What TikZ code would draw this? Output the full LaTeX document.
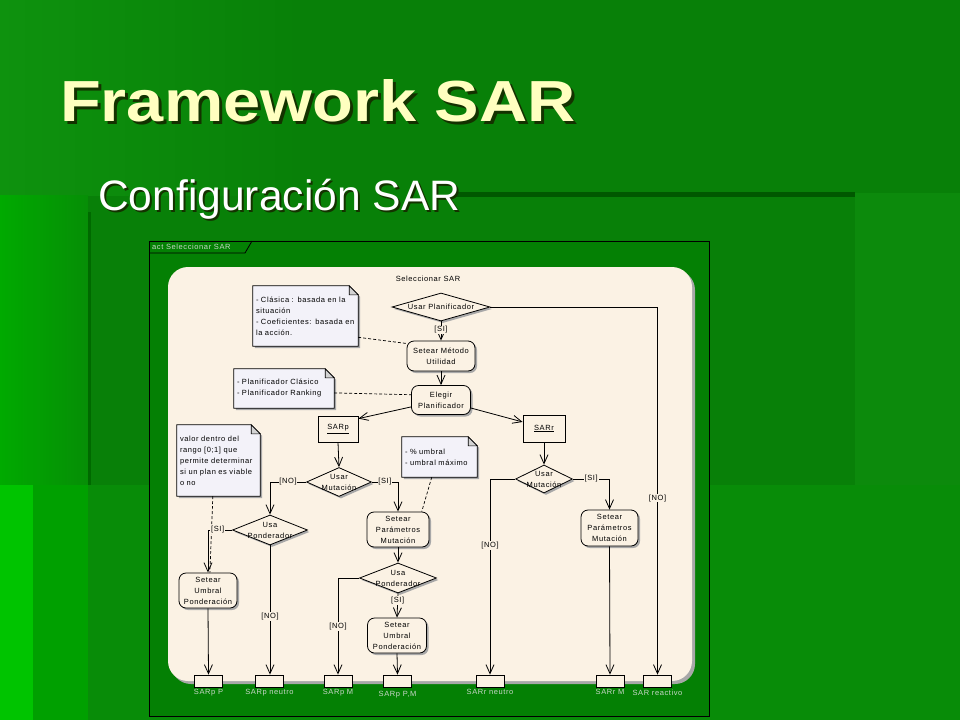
\documentclass[tikz,border=0pt]{standalone}
\usepackage{fontspec}
\setmainfont{Liberation Sans}
\newfontfamily\dfont[LetterSpace=8]{Liberation Sans}
\usetikzlibrary{shapes.geometric,arrows.meta,shadows,calc}
\pgfdeclarelayer{bg}
\pgfdeclarelayer{notebg}
\pgfsetlayers{bg,notebg,main}
\definecolor{bgA}{RGB}{8,128,8}
\definecolor{bgTL}{RGB}{14,146,14}
\definecolor{bgLeftA}{RGB}{0,170,0}
\definecolor{bgLeftB}{RGB}{6,142,6}
\definecolor{bgLL}{RGB}{0,196,0}
\definecolor{bgLM}{RGB}{0,160,0}
\definecolor{bgLow}{RGB}{8,140,8}
\definecolor{bgLine}{RGB}{0,105,0}
\definecolor{bgRight}{RGB}{12,138,12}
\definecolor{bgDark}{RGB}{0,88,0}
\definecolor{frameIn}{RGB}{4,128,4}
\definecolor{cream}{RGB}{251,242,228}
\definecolor{notefill}{RGB}{243,242,249}
\definecolor{shadowgray}{RGB}{168,168,168}
\definecolor{pingray}{RGB}{200,214,200}
\definecolor{titleyellow}{RGB}{255,255,192}
\definecolor{titleshadow}{RGB}{20,50,0}
\tikzset{
  dtext/.style={font=\dfont\fontsize{7.5}{11}\selectfont},
  shad/.style={drop shadow={shadow xshift=2pt,shadow yshift=-2pt,fill=shadowgray,opacity=1}},
  action/.style={rectangle,rounded corners=7pt,draw,line width=0.8pt,fill=cream,align=center,inner sep=1pt,dtext,shad},
  decision/.style={diamond,draw,line width=0.8pt,fill=cream,inner sep=0pt,shad},
  dlabel/.style={dtext,align=center,inner sep=0pt},
  objbox/.style={rectangle,draw,line width=0.8pt,fill=cream,dtext,inner sep=1pt},
  pinbox/.style={rectangle,draw,line width=0.8pt,fill=cream,minimum width=28pt,minimum height=12pt,inner sep=0pt},
  pinlabel/.style={dtext,text=pingray,inner sep=0pt,anchor=north},
  elabel/.style={dtext,fill=cream,inner sep=0.8pt},
  arr/.style={draw,line width=0.8pt,-{Straight Barb[length=9pt,width=8pt]}},
  notelink/.style={draw,line width=0.7pt,dash pattern=on 3pt off 2pt},
  notebox/.style={rectangle,dtext,align=left,inner sep=3pt},
}
\begin{document}
\begin{tikzpicture}[x=1pt,y=-1pt]
\useasboundingbox (0,0) rectangle (960,720);
\begin{pgfonlayer}{bg}
  \fill[bgA] (0,0) rectangle (960,720);
  \shade[left color=bgTL,right color=bgA] (0,0) rectangle (300,195);
  \shade[left color=bgLeftA,right color=bgLeftB] (0,195) rectangle (88,485);
  \fill[bgLL] (0,485) rectangle (33,720);
  \fill[bgLM] (33,485) rectangle (88,720);
  \fill[bgLow] (88,485) rectangle (960,720);
  \fill[bgLine] (88,212) rectangle (91,485);
  \fill[bgRight] (855,193) rectangle (960,485);
  \fill[bgDark] (455,192) rectangle (855,197);
  % frame
  \fill[frameIn] (149,241) rectangle (709,716);
  \draw[line width=0.8pt] (149,241) rectangle (709,716);
  \draw[line width=0.8pt] (149,253) -- (245,253) -- (252,241);
  % activity
  \fill[shadowgray] (171,270) [rounded corners=20pt] rectangle (695,684);
  \fill[cream] (168,267) [rounded corners=20pt] rectangle (692,681);
\end{pgfonlayer}

% titles (text with its shadow in one node)
\node[inner sep=0,anchor=base west] (title) at (60,121) {\rlap{\kern3pt\raisebox{-3pt}{\textcolor{titleshadow}{\resizebox{515pt}{42pt}{\bfseries Framework SAR}}}}\textcolor{titleyellow}{\resizebox{515pt}{42pt}{\bfseries Framework SAR}}};
\node[inner sep=0,anchor=base west] (subtitle) at (98,210) {\rlap{\kern2pt\raisebox{-2pt}{\textcolor{titleshadow}{\resizebox{362pt}{!}{Configuración SAR}}}}\textcolor{white}{\resizebox{362pt}{!}{Configuración SAR}}};

\node[dtext,text=pingray,anchor=west,inner sep=0] (tab) at (152,247) {act Seleccionar SAR};
\node[dtext,inner sep=0] (acttitle) at (428,279) {Seleccionar SAR};

% decisions
\node[decision,minimum width=98pt,minimum height=28pt,label={[dlabel]center:Usar Planificador}] (D1) at (441,307) {};
\node[decision,minimum width=65pt,minimum height=29pt,label={[dlabel]center:Usar\\Mutación}] (D2) at (339,482) {};
\node[decision,minimum width=75pt,minimum height=30pt,label={[dlabel]center:Usa\\Ponderador}] (D3) at (270,530) {};
\node[decision,minimum width=77pt,minimum height=30pt,label={[dlabel]center:Usa\\Ponderador}] (D4) at (398,578) {};
\node[decision,minimum width=57pt,minimum height=28pt,label={[dlabel]center:Usar\\Mutación}] (D5) at (544,479) {};

% actions
\node[action,minimum width=68pt,minimum height=30pt] (A1) at (441,356) {Setear Método\\Utilidad};
\node[action,minimum width=59pt,minimum height=29pt] (A2) at (441,400) {Elegir\\Planificador};
\node[action,minimum width=58pt,minimum height=35pt] (A3) at (208,590.5) {Setear\\Umbral\\Ponderación};
\node[action,minimum width=62pt,minimum height=35pt] (A4) at (398,529.5) {Setear\\Parámetros\\Mutación};
\node[action,minimum width=59pt,minimum height=35pt] (A5) at (397,635.5) {Setear\\Umbral\\Ponderación};
\node[action,minimum width=57pt,minimum height=36pt] (A6) at (609.5,528) {Setear\\Parámetros\\Mutación};

% objects
\node[objbox,minimum width=40pt,minimum height=26pt] (O1) at (338,429) {\underline{SARp}};
\node[objbox,minimum width=42pt,minimum height=27pt] (O2) at (544,428.5) {\underline{SARr}};

% notes
\node[notebox,text width=99pt,minimum height=60pt] (N1) at (305.5,316) {- Clásica : basada en la\\situación\\- Coeficientes: basada en\\la acción.};
\node[notebox,text width=94pt,minimum height=39pt] (N2) at (284,388.5) {- Planificador Clásico\\- Planificador Ranking};
\node[notebox,text width=77pt,minimum height=71pt] (N3) at (218.5,460.5) {valor dentro del\\rango [0;1] que\\permite determinar\\si un plan es viable\\o no};
\node[notebox,text width=69pt,minimum height=40pt] (N4) at (439.5,457) {- \% umbral\\- umbral máximo};
\begin{pgfonlayer}{notebg}
  \foreach \n in {N1,N2,N3,N4} {
    \fill[shadowgray] ([xshift=2pt,yshift=-2pt]\n.north west) -- ([xshift=-7pt,yshift=-2pt]\n.north east) -- ([xshift=2pt,yshift=-11pt]\n.north east) -- ([xshift=2pt,yshift=-2pt]\n.south east) -- ([xshift=2pt,yshift=-2pt]\n.south west) -- cycle;
    \filldraw[fill=notefill,line width=0.8pt] (\n.north west) -- ([xshift=-9pt]\n.north east) -- ([yshift=-9pt]\n.north east) -- (\n.south east) -- (\n.south west) -- cycle;
    \filldraw[fill=shadowgray!50,line width=0.6pt] ([xshift=-9pt]\n.north east) -- ([xshift=-9pt,yshift=-9pt]\n.north east) -- ([yshift=-9pt]\n.north east) -- cycle;
  }
\end{pgfonlayer}

% pins
\node[pinbox] (P1) at (208.5,681) {};
\node[pinbox] (P2) at (269.5,681) {};
\node[pinbox] (P3) at (338,681) {};
\node[pinbox] (P4) at (397.5,681) {};
\node[pinbox] (P5) at (490,681) {};
\node[pinbox] (P6) at (610,681) {};
\node[pinbox] (P7) at (657.5,681) {};
\node[pinlabel] (L1) at ([yshift=-2pt]P1.south) {SARp P};
\node[pinlabel] (L2) at ([yshift=-2pt]P2.south) {SARp neutro};
\node[pinlabel] (L3) at ([yshift=-2pt]P3.south) {SARp M};
\node[pinlabel] (L4) at ([yshift=-4pt]P4.south) {SARp P,M};
\node[pinlabel] (L5) at ([yshift=-2pt]P5.south) {SARr neutro};
\node[pinlabel] (L6) at ([yshift=-2pt]P6.south) {SARr M};
\node[pinlabel] (L7) at ([yshift=-2pt]P7.south) {SAR reactivo};

% note links
\draw[notelink] (N1.-22) -- (A1.160);
\draw[notelink] (N2.-5) -- (A2.170);
\draw[notelink] (N3.261) -- (A3.84);
\draw[notelink] (N4.249) -- (A4.37);

% flows
\draw[arr] (D1.south) -- (A1.north) node[elabel,pos=0.45] {[SI]};
\draw[arr] (A1.south) -- (A2.north);
\draw[arr] (A2.193) -- (O1.27);
\draw[arr] (A2.-15) -- (O2.163);
\draw[arr] (O1.south) -- (D2.north);
\draw[arr] (D2.west) -| (D3.north) node[elabel,pos=0.25] {[NO]};
\draw[arr] (D2.east) -| (A4.north) node[elabel,pos=0.25] {[SI]};
\draw[arr] (D3.west) -| (A3.north) node[elabel,pos=0.3] {[SI]};
\draw[arr] (A3.south) -- (P1.north);
\draw[arr] (D3.south) -- (D3.south |- P2.north) node[elabel,pos=0.55] {[NO]};
\draw[arr] (A4.south) -- (D4.north);
\draw[arr] (D4.west) -| (P3.north) node[elabel,pos=0.75] {[NO]};
\draw[arr] (D4.south) -- (A5.north) node[elabel,pos=0.3] {[SI]};
\draw[arr] (A5.south) -- (P4.north);
\draw[arr] (O2.south) -- (D5.north);
\draw[arr] (D5.east) -| (A6.north) node[elabel,pos=0.25] {[SI]};
\draw[arr] (D5.west) -| (P5.north) node[elabel,pos=0.67] {[NO]};
\draw[arr] (A6.south) -- (P6.north);
\draw[arr] (D1.east) -| (P7.north) node[elabel,pos=0.76] {[NO]};
\end{tikzpicture}
\end{document}
